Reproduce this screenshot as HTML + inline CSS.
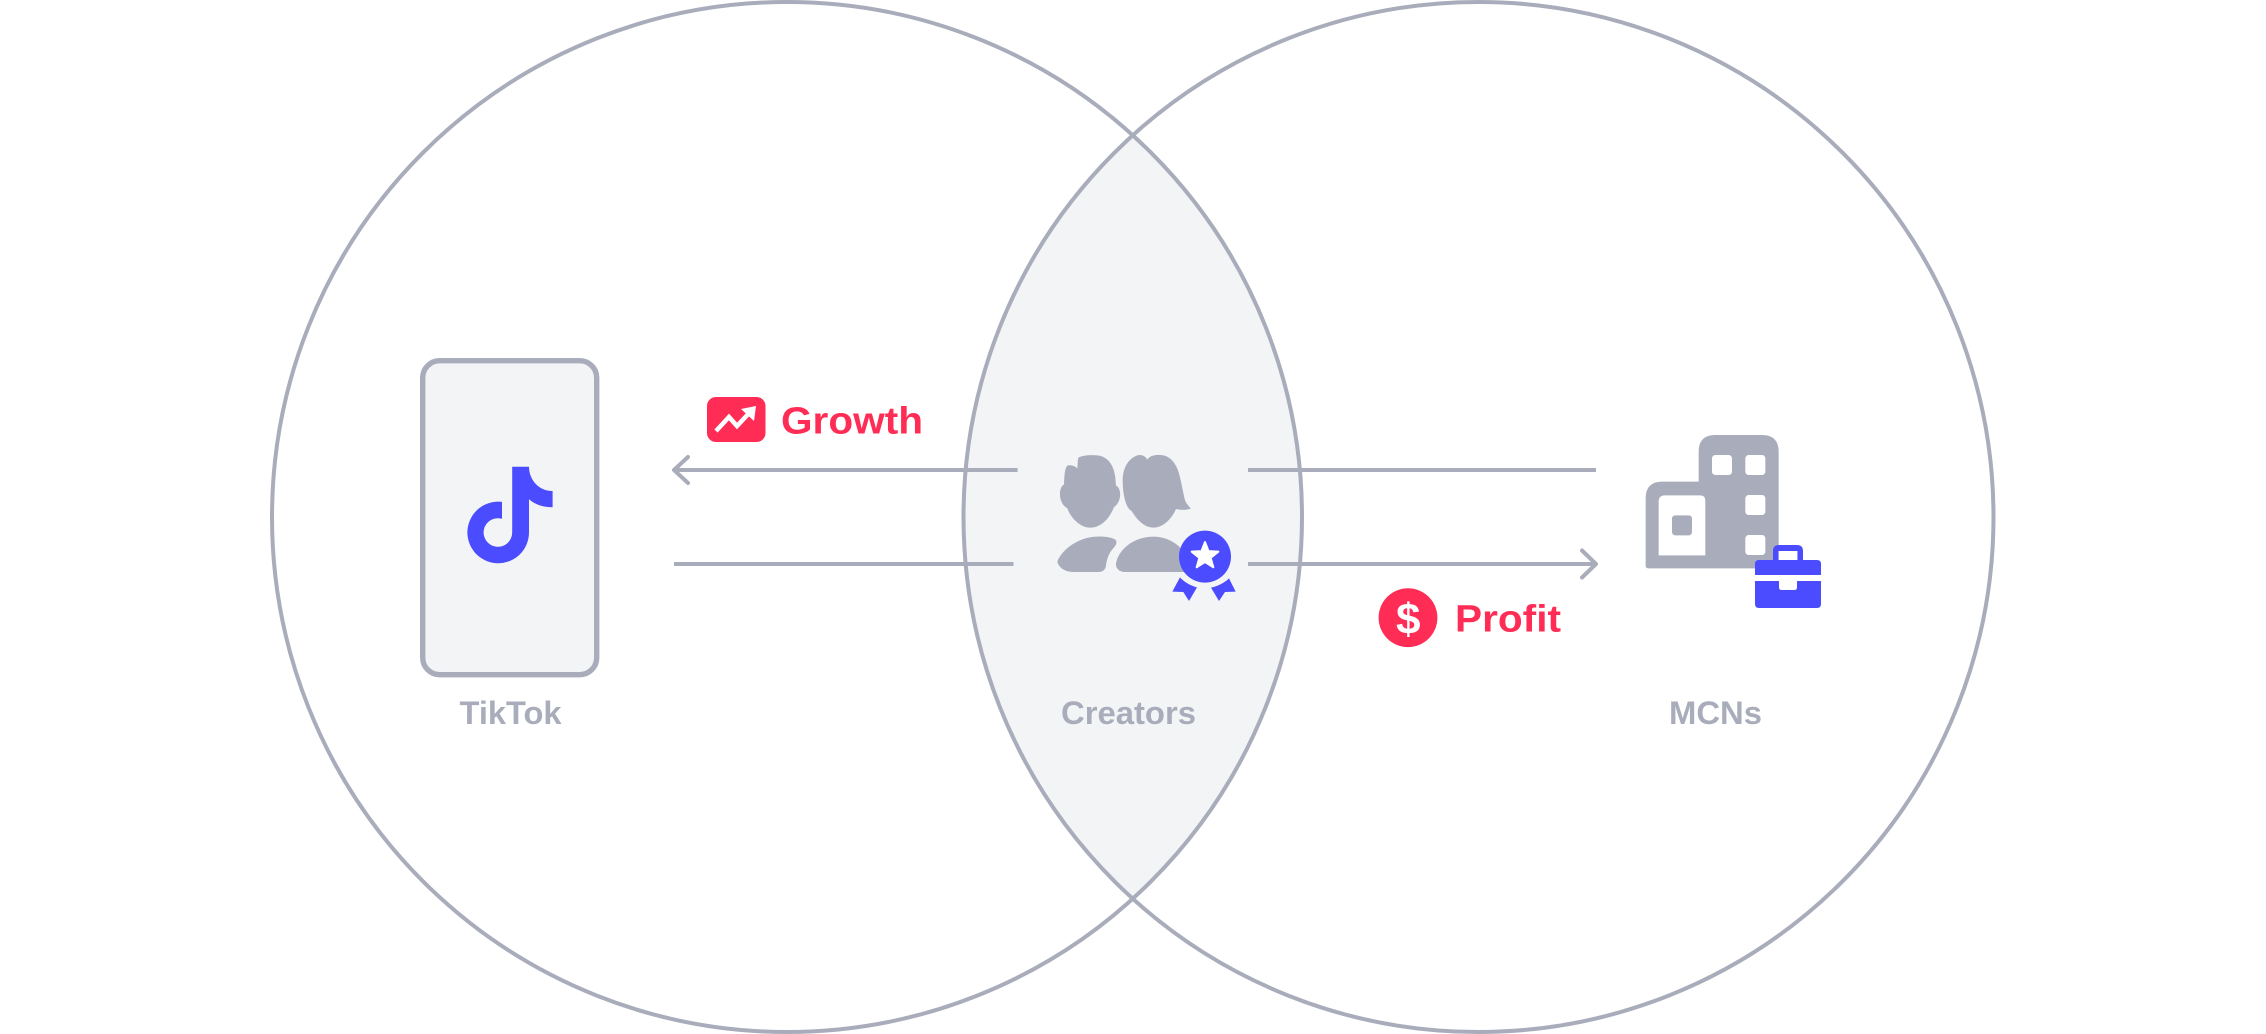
<!DOCTYPE html>
<html lang="en">
<head>
<meta charset="utf-8">
<title>TikTok, Creators and MCNs Venn diagram</title>
<style>
html,body{margin:0;padding:0;background:#fff;width:2266px;height:1034px;overflow:hidden}
svg{display:block}
text{font-family:"Liberation Sans",sans-serif;font-weight:700}
</style>
</head>
<body>
<svg width="2266" height="1034" viewBox="0 0 2266 1034" xmlns="http://www.w3.org/2000/svg">
  <rect width="2266" height="1034" fill="#ffffff"/>

  <path d="M1132.75 135.3A515 515 0 0 1 1132.75 898.7A515 515 0 0 1 1132.75 135.3Z" fill="#f3f4f6"/>
  <circle cx="787" cy="517" r="515" fill="none" stroke="#a9adbb" stroke-width="4"/>
  <circle cx="1478.5" cy="517" r="515" fill="none" stroke="#a9adbb" stroke-width="4"/>

  <g>
    <rect x="422.7" y="360.7" width="174" height="314" rx="17" fill="#f3f4f6" stroke="#a9adbb" stroke-width="5.4"/>
    <path d="M512.2 466.7H529C529 480 539 491 552.6 491V507.3C543 507.3 535 504.5 529 499.3V532.5A30.8 30.8 0 1 1 502 501.9V518.8A14.3 14.3 0 1 0 512.2 532.5Z" fill="#4b4bff"/>
  </g>
  <text x="510.5" y="724" font-size="32" text-anchor="middle" textLength="102" lengthAdjust="spacingAndGlyphs" fill="#a9adbb">TikTok</text>

  <g>
    <rect x="707" y="397" width="58.5" height="45" rx="9" fill="#ff2d55"/>
    <polyline points="716,431 729,417 737,426 751,411" fill="none" stroke="#ffffff" stroke-width="4.5" stroke-linejoin="miter"/>
    <polygon points="741,409 756,406 754,421" fill="#ffffff"/>
    <text x="781" y="433.5" font-size="38" textLength="142" lengthAdjust="spacingAndGlyphs" fill="#ff2d55">Growth</text>
  </g>

  <g fill="none" stroke="#a9adbb" stroke-width="4">
    <line x1="675" y1="470" x2="1017.6" y2="470"/>
    <polyline points="688,457 674,470 688,483" stroke-linecap="round" stroke-linejoin="round"/>
  </g>
  <line x1="674" y1="564" x2="1013.5" y2="564" stroke="#a9adbb" stroke-width="4"/>
  <line x1="1248" y1="470" x2="1596" y2="470" stroke="#a9adbb" stroke-width="4"/>
  <g fill="none" stroke="#a9adbb" stroke-width="4">
    <line x1="1248" y1="564" x2="1595" y2="564"/>
    <polyline points="1582,550.5 1596,564 1582,577.5" stroke-linecap="round" stroke-linejoin="round"/>
  </g>

  <g>
    <g transform="translate(1050 445) scale(0.33333)">
      <path d="M85 38C100 30 125 29 148 32C175 38 192 62 196 98L198 122C207 125 212 140 210 155C208 170 200 182 192 186C180 218 155 248 121 248C90 248 62 218 52 190C38 182 29 165 30 145C30 132 35 122 42 118C43 95 44 70 52 62C62 58 75 63 82 70C83 58 83 46 85 38Z" fill="#a9adbb"/>
      <path d="M22 350C34 318 70 290 110 279C140 271 182 274 196 284C204 292 197 303 188 312C176 325 170 345 168 362C166 375 158 381 145 381H70C45 381 26 368 22 350Z" fill="#a9adbb"/>
      <path d="M218 105C218 70 235 40 262 31C275 27 287 34 292 44C298 32 318 27 340 31C365 36 380 60 387 85C396 118 400 150 406 168C410 178 418 184 422 191C412 196 390 195 378 192C366 220 340 248 310 248C285 248 263 228 245 198C228 190 218 150 218 105Z" fill="#a9adbb"/>
      <path d="M198 355C205 315 250 275 310 275C350 275 385 295 410 330V381H225C208 381 196 370 198 355Z" fill="#a9adbb"/>
    </g>
    <g transform="translate(1030 430) scale(0.33333)">
      <circle cx="525" cy="380" r="78" fill="#4b4bff"/>
      <polygon points="525,336 535.6,363.4 565,365 542,383.6 550,412 525,396 500,412 508,383.6 485,365 514.4,363.4" fill="#ffffff" stroke="#ffffff" stroke-width="6" stroke-linejoin="round"/>
      <path d="M450 442C463 456 480 466 501 472L477 513L460 486L427 485Z" fill="#4b4bff"/>
      <path d="M597 445C584 458 565 468 543 473L567 513L585 486L617 485Z" fill="#4b4bff"/>
    </g>
  </g>
  <text x="1128.5" y="724" font-size="32" text-anchor="middle" textLength="135" lengthAdjust="spacingAndGlyphs" fill="#a9adbb">Creators</text>

  <g>
    <circle cx="1408" cy="617.7" r="29.4" fill="#ff2d55"/>
    <text x="1408.3" y="634" font-size="44" text-anchor="middle" fill="#ffffff">$</text>
    <text x="1455" y="631.5" font-size="38" textLength="106" lengthAdjust="spacingAndGlyphs" fill="#ff2d55">Profit</text>
  </g>

  <g transform="translate(1340 410) scale(0.33333)">
    <path d="M1076 215V125Q1076 75 1126 75H1266Q1316 75 1316 125V475H925Q917 475 917 467V265Q917 215 967 215Z" fill="#a9adbb"/>
    <rect x="1116" y="135" width="60" height="60" rx="10" fill="#ffffff"/>
    <rect x="1216" y="135" width="60" height="60" rx="10" fill="#ffffff"/>
    <rect x="1216" y="255" width="60" height="60" rx="10" fill="#ffffff"/>
    <rect x="1216" y="375" width="60" height="60" rx="10" fill="#ffffff"/>
    <path d="M956 436V275Q956 256 975 256H1080Q1096 256 1096 272V436Z" fill="#ffffff"/>
    <rect x="996" y="316" width="60" height="60" rx="10" fill="#a9adbb"/>
    <g>
      <path d="M1299 455V423Q1299 405 1317 405H1371Q1389 405 1389 423V455H1372V423H1316V455Z" fill="#4b4bff"/>
      <rect x="1316" y="423" width="56" height="27" fill="#ffffff"/>
      <path d="M1245 495V462Q1245 450 1257 450H1431Q1443 450 1443 462V495Z" fill="#4b4bff"/>
      <path d="M1245 513H1317V532Q1317 540 1325 540H1363Q1371 540 1371 532V513H1443V582Q1443 594 1431 594H1257Q1245 594 1245 582Z" fill="#4b4bff"/>
    </g>
  </g>
  <text x="1715.5" y="724" font-size="32" text-anchor="middle" textLength="93" lengthAdjust="spacingAndGlyphs" fill="#a9adbb">MCNs</text>
</svg>
</body>
</html>
